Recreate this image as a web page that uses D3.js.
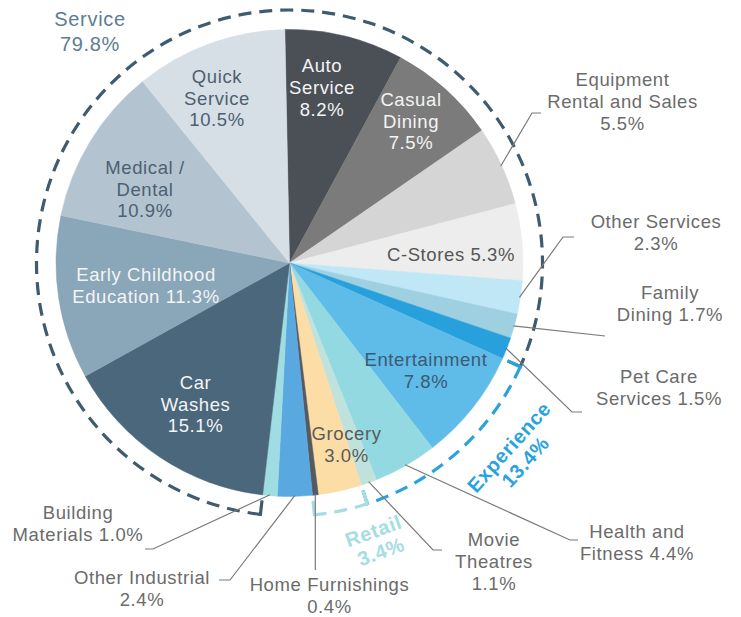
<!DOCTYPE html>
<html><head><meta charset="utf-8">
<script src="https://cdn.jsdelivr.net/npm/d3@7"></script>
<style>
body{margin:0;background:#fff}
svg text{font-family:"Liberation Sans",Arial,sans-serif}
</style>
</head><body><svg id="chart" width="741" height="617"></svg>
<script>
// ---------------- DATA ----------------
const categories = ["Auto Service","Casual Dining","Equipment Rental and Sales","C-Stores","Other Services","Family Dining","Pet Care Services","Entertainment","Health and Fitness","Movie Theatres","Grocery","Home Furnishings","Other Industrial","Building Materials","Car Washes","Early Childhood Education","Medical / Dental","Quick Service"];
const values = [8.2,7.5,5.5,5.3,2.3,1.7,1.5,7.8,4.4,1.1,3.0,0.4,2.4,1.0,15.1,11.3,10.9,10.5];
const labelLines = [
  ["Auto","Service","%v"],["Casual","Dining","%v"],["Equipment","Rental and Sales","%v"],["C-Stores %v"],
  ["Other Services","%v"],["Family","Dining %v"],["Pet Care","Services %v"],["Entertainment","%v"],
  ["Health and","Fitness %v"],["Movie","Theatres","%v"],["Grocery","%v"],["Home Furnishings","%v"],
  ["Other Industrial","%v"],["Building","Materials %v"],["Car","Washes","%v"],["Early Childhood","Education %v"],
  ["Medical /","Dental","%v"],["Quick","Service","%v"]
];
const groups = ["Service","Experience","Retail"];
const groupValues = [79.8,13.4,3.4];
const groupFirst = ["Car Washes","Entertainment","Grocery"];
const groupLast = ["Pet Care Services","Movie Theatres","Home Furnishings"];

// ---------------- STYLE / LAYOUT ----------------
const palette = ["#4b5056","#7b7b7b","#d5d5d5","#ededed","#c0e7f6","#9fd0e2","#28a0dc","#5fbbe8","#92d9e2","#bfe2dc","#fddda6","#545a5f","#5aa8e0","#a0dde3","#4a677c","#8aa6b9","#b3c4d0","#d6dfe6"];
const groupColors = ["#3e5b70","#2aa3dc","#a5dde2"];
const cx = 289.5, cy = 263, r = 233.5, R = 253, rot = -0.02;
const FS = 18.5, LS = 0.6, LH = 21.7;
const OUT = "#6b6b6b";
// label layout: x,y = centre of first line; c = color; lead = leader points after slice edge
const layout = {
  "Auto Service":{x:322,y:66,c:"#f4f4f4"},
  "Casual Dining":{x:411,y:99.5,c:"#f4f4f4"},
  "Equipment Rental and Sales":{x:622.5,y:80,c:OUT,lead:[[532,113],[541,113]]},
  "C-Stores":{x:451,y:255,c:"#555"},
  "Other Services":{x:656,y:222,c:OUT,lead:[[563,237],[574,237]]},
  "Family Dining":{x:670,y:293,c:OUT,lead:[[605,336]]},
  "Pet Care Services":{x:659,y:377,c:OUT,lead:[[572,412],[582,412]]},
  "Entertainment":{x:426,y:360,c:"#3c5a70"},
  "Health and Fitness":{x:637,y:531.5,c:OUT,lead:[[570,540],[578,540]]},
  "Movie Theatres":{x:494,y:540,c:OUT,lead:[[433,550],[442,550]]},
  "Grocery":{x:346.5,y:433.5,c:"#5a5a5a"},
  "Home Furnishings":{x:329.5,y:585,c:OUT,lead:[[318,570]],vert:true},
  "Other Industrial":{x:142,y:577.5,c:OUT,lead:[[230,580],[219,580]]},
  "Building Materials":{x:78,y:512.5,c:OUT,lead:[[153,549],[145,549]]},
  "Car Washes":{x:195.5,y:382.5,c:"#f4f4f4"},
  "Early Childhood Education":{x:146,y:274.5,c:"#f4f4f4"},
  "Medical / Dental":{x:145,y:167.5,c:"#4e6070"},
  "Quick Service":{x:217,y:76.5,c:"#4e6070"}
};
const groupLayout = {
  "Service":{x:90,y:19,rotate:0,fs:20,lh:25,bold:false,c:"#5c7d93"},
  "Experience":{x:509,y:447,rotate:-48,fs:20,lh:22,bold:true,c:"#2aa3dc"},
  "Retail":{x:373.5,y:531,rotate:-20,fs:20,lh:22,bold:true,c:"#a5dde2"}
};

// ---------------- DRAW ----------------
const svg = d3.select("#chart");
const g = svg.append("g").attr("transform",`translate(${cx},${cy})`);
const color = d3.scaleOrdinal(categories, palette);
const pie = d3.pie().sort(null).value(d=>d.v).startAngle(rot).endAngle(rot+2*Math.PI);
const data = categories.map((c,i)=>({c, v:values[i], lines:labelLines[i]}));
const arcs = pie(data);
const arc = d3.arc().innerRadius(0).outerRadius(r);
g.selectAll("path.slice").data(arcs).join("path").attr("class","slice")
  .attr("d",arc).attr("fill",d=>color(d.data.c)).attr("stroke",d=>color(d.data.c)).attr("stroke-width",0.5);

// dashed group arcs
const byName = new Map(arcs.map(a=>[a.data.c,a]));
groups.forEach((name,i)=>{
  let a0 = byName.get(groupFirst[i]).startAngle;
  let a1 = byName.get(groupLast[i]).endAngle;
  if (a1 < a0) a1 += 2*Math.PI;
  const p = d3.path();
  p.arc(0,0,R,a0-Math.PI/2,a1-Math.PI/2);
  g.append("path").attr("d",p.toString()).attr("fill","none")
    .attr("stroke",groupColors[i]).attr("stroke-width",3.2).attr("stroke-dasharray","13,8");
  [a0,a1].forEach(a=>{
    const s=Math.sin(a), c=-Math.cos(a);
    g.append("line").attr("x1",s*(R-14)).attr("y1",c*(R-14)).attr("x2",s*(R+1.5)).attr("y2",c*(R+1.5))
      .attr("stroke",groupColors[i]).attr("stroke-width",3.2);
  });
  const L = groupLayout[name];
  const t = svg.append("g").attr("transform",`translate(${L.x},${L.y}) rotate(${L.rotate})`);
  [name, d3.format(".1f")(groupValues[i])+"%"].forEach((s,k)=>{
    t.append("text").attr("x",0).attr("y",k*L.lh).attr("dy","0.35em").attr("text-anchor","middle")
      .attr("font-size",L.fs).attr("font-weight",L.bold?"bold":"normal").attr("letter-spacing",0.7)
      .attr("fill",L.c).text(s);
  });
});

// leader lines
const edge = d3.arc().innerRadius(r-1).outerRadius(r-1);
arcs.forEach(a=>{
  const L = layout[a.data.c];
  if(!L.lead) return;
  let [sx,sy] = edge.centroid(a);
  sx+=cx; sy+=cy;
  if (L.vert) { L.lead = L.lead.map(p=>[sx,p[1]]); }
  const pts = [[sx,sy],...L.lead];
  svg.append("path").attr("d",d3.line()(pts)).attr("fill","none").attr("stroke","#7a7a7a").attr("stroke-width",1.2);
});

// labels
arcs.forEach(a=>{
  const L = layout[a.data.c];
  const pct = d3.format(".1f")(a.data.v)+"%";
  a.data.lines.forEach((ln,k)=>{
    svg.append("text").attr("x",L.x).attr("y",L.y+k*LH).attr("dy","0.35em").attr("text-anchor","middle")
      .attr("font-size",FS).attr("letter-spacing",LS).attr("fill",L.c).text(ln.replace("%v",pct));
  });
});
</script>
</body></html>
